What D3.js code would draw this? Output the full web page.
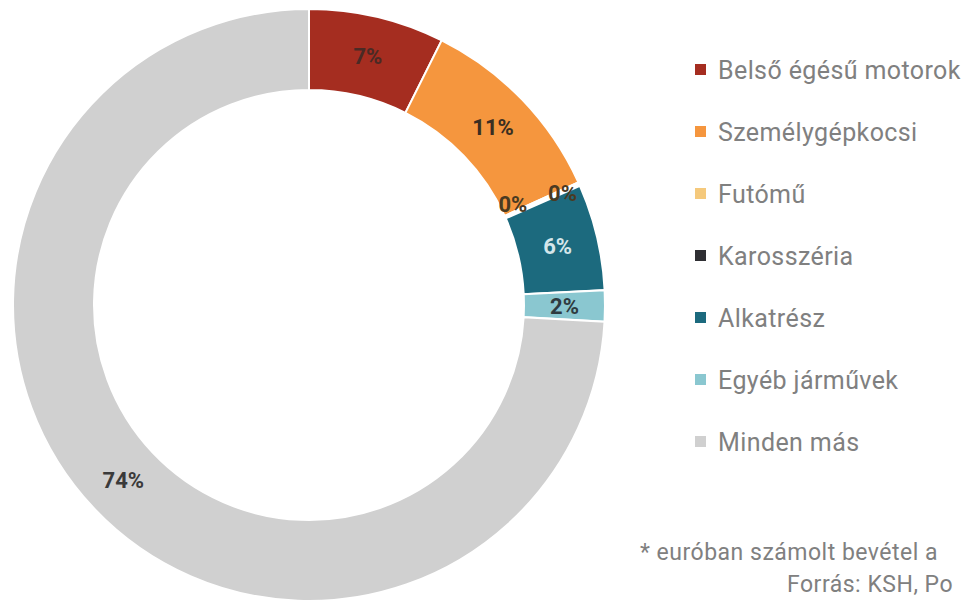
<!DOCTYPE html>
<html>
<head>
<meta charset="utf-8">
<script src="https://cdn.jsdelivr.net/npm/d3@7"></script>
<style>
body { margin: 0; background: #fff; }
svg { display: block; }
</style>
</head>
<body>
<svg id="chart" width="965" height="602"></svg>
<script>
var categories = ["Belső égésű motorok", "Személygépkocsi", "Futómű", "Karosszéria", "Alkatrész", "Egyéb járművek", "Minden más"];
var shares = [7.4, 10.8, 0.1, 0.1, 5.8, 1.7, 74.1];
var colors = ["#a52d20", "#f5963e", "#f5c97c", "#2f2f33", "#1c6a7e", "#8ac7d0", "#d0d0d0"];
var labelColors = ["#4a2a25", "#3a2e22", "#4a3a22", "#4a3a22", "#d4e6ea", "#2f3b40", "#3a3a3a"];
// the source picture is cut at its right edge, so only the visible part is kept
var footnotes = ["* euróban számolt bevétel a", "Forrás: KSH, Po"];

var svg = d3.select("#chart");
var cx = 309, cy = 305;
var outer = 296, inner = 215;

var pie = d3.pie().sort(null).value(function(d){ return d; });
var arcs = pie(shares);
var arc = d3.arc().innerRadius(inner).outerRadius(outer);

var g = svg.append("g").attr("transform", "translate(" + cx + "," + cy + ")");

g.selectAll("path.slice").data(arcs).enter().append("path")
    .attr("class", "slice")
    .attr("d", arc)
    .attr("fill", function(d, i){ return colors[i]; })
    .attr("stroke", "#fff")
    .attr("stroke-width", 2);

// labels, the two 0% ones sit on both sides of the thin slices
var zeroShift = [[-29, 4], [20, -8]];
var zeroCount = 0;
g.selectAll("text.lbl").data(arcs).enter().append("text")
    .attr("class", "lbl")
    .attr("transform", function(d, i){
        var c = arc.centroid(d);
        if(Math.round(d.data) == 0){
            var s = zeroShift[zeroCount++];
            c = [c[0] + s[0], c[1] + s[1]];
        }
        return "translate(" + c[0] + "," + c[1] + ")";
    })
    .attr("text-anchor", "middle")
    .attr("dy", "0.35em")
    .attr("font-family", "Roboto, sans-serif")
    .attr("font-weight", "bold")
    .attr("font-size", "22px")
    .attr("fill", function(d, i){ return labelColors[i]; })
    .text(function(d){ return Math.round(d.data) + "%"; });

// legend
var legY = d3.scalePoint().domain(categories).range([70, 442]);
var leg = svg.selectAll("g.leg").data(categories).enter().append("g")
    .attr("class", "leg")
    .attr("transform", function(d){ return "translate(695," + legY(d) + ")"; });
leg.append("rect").attr("x", 0).attr("y", -6).attr("width", 11).attr("height", 11)
    .attr("fill", function(d, i){ return colors[i]; });
leg.append("text").attr("x", 23).attr("dy", "0.35em")
    .attr("font-family", "Roboto, sans-serif")
    .attr("font-size", "25px")
    .attr("letter-spacing", "0.4px")
    .attr("fill", "#808080")
    .text(function(d){ return d; });

svg.append("text").attr("x", 640).attr("y", 560)
    .attr("font-family", "Roboto, sans-serif").attr("font-size", "23px")
    .attr("letter-spacing", "0.5px").attr("fill", "#808080")
    .text(footnotes[0]);
svg.append("text").attr("x", 787).attr("y", 592)
    .attr("font-family", "Roboto, sans-serif").attr("font-size", "23px")
    .attr("letter-spacing", "0.5px").attr("fill", "#808080")
    .text(footnotes[1]);
</script>
</body>
</html>
